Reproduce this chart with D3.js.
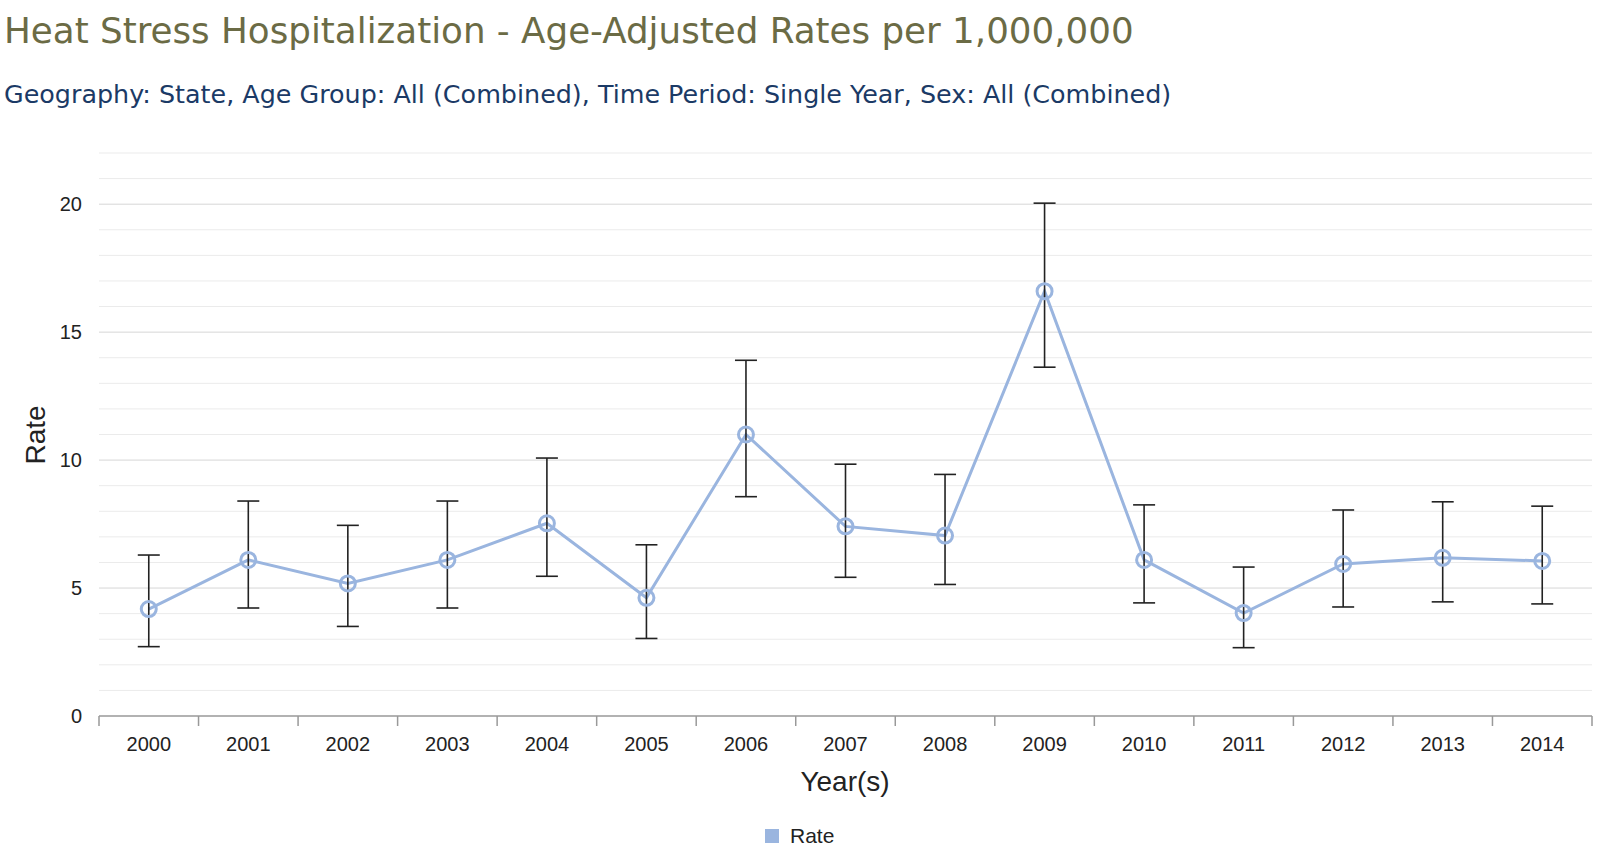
<!DOCTYPE html>
<html>
<head>
<meta charset="utf-8">
<script src="https://cdn.jsdelivr.net/npm/d3@7"></script>
<style>
  body { margin: 0; background: #fff; }
  svg text { font-family: "Liberation Sans", Arial, sans-serif; }
</style>
</head>
<body>
<div id="chart"></div>
<script>
// Data
const years = ["2000", "2001", "2002", "2003", "2004", "2005", "2006", "2007",
  "2008", "2009", "2010", "2011", "2012", "2013", "2014"];
const rate = [4.18, 6.1, 5.18, 6.1, 7.53, 4.62, 11.0, 7.41, 7.05, 16.6, 6.1, 4.02, 5.94, 6.18, 6.06];
const upper = [6.29, 8.4, 7.45, 8.4, 10.08, 6.69, 13.9, 9.84, 9.44, 20.04, 8.25, 5.82, 8.05, 8.37, 8.2];
const lower = [2.71, 4.22, 3.5, 4.22, 5.46, 3.03, 8.57, 5.42, 5.14, 13.63, 4.42, 2.67, 4.26, 4.46, 4.38];
const yTicks = [0, 5, 10, 15, 20];

const titleText = "Heat Stress Hospitalization - Age-Adjusted Rates per 1,000,000";
const subtitleText = "Geography: State, Age Group: All (Combined), Time Period: Single Year, Sex: All (Combined)";

const W = 1600, H = 850;
const MARGIN = {LEFT: 99, RIGHT: 8, TOP: 153, BOTTOM: 134};
const LINE_COLOR = "#9ab5df";

const svg = d3.select("#chart").append("svg")
  .attr("width", W).attr("height", H);

// Titles
svg.append("text")
  .attr("x", 4).attr("y", 43)
  .style("font-family", "'DejaVu Sans', Verdana, sans-serif")
  .style("font-size", "35.7px")
  .attr("fill", "#6b6b45")
  .text(titleText);

svg.append("text")
  .attr("x", 4).attr("y", 103)
  .style("font-family", "'DejaVu Sans', Verdana, sans-serif")
  .style("font-size", "25.4px")
  .attr("fill", "#1b3a66")
  .text(subtitleText);

// Scales
const x = d3.scaleBand()
  .domain(years)
  .range([MARGIN.LEFT, W - MARGIN.RIGHT]);
const y = d3.scaleLinear()
  .domain([0, 22])
  .range([H - MARGIN.BOTTOM, MARGIN.TOP]);

// Grid lines: minor every 1, major every 5
const g = svg.append("g");
g.selectAll("line.minor")
  .data(d3.range(1, 23).filter(v => v % 5 !== 0))
  .join("line")
  .attr("class", "minor")
  .attr("x1", MARGIN.LEFT).attr("x2", W - MARGIN.RIGHT)
  .attr("y1", d => y(d)).attr("y2", d => y(d))
  .attr("stroke", "#ebebeb").attr("stroke-width", 1);
g.selectAll("line.major")
  .data(yTicks.filter(v => v > 0))
  .join("line")
  .attr("class", "major")
  .attr("x1", MARGIN.LEFT).attr("x2", W - MARGIN.RIGHT)
  .attr("y1", d => y(d)).attr("y2", d => y(d))
  .attr("stroke", "#d6d6d6").attr("stroke-width", 1);

// Y axis labels
svg.selectAll("text.ytick")
  .data(yTicks)
  .join("text")
  .attr("class", "ytick")
  .attr("x", 82).attr("y", d => y(d))
  .attr("dy", "0.35em")
  .attr("text-anchor", "end")
  .style("font-size", "20px")
  .attr("fill", "#222")
  .text(d => d);

// X axis
const xAxisGroup = svg.append("g")
  .attr("transform", "translate(0," + y(0) + ")");
xAxisGroup.append("line")
  .attr("x1", MARGIN.LEFT).attr("x2", W - MARGIN.RIGHT)
  .attr("stroke", "#999").attr("stroke-width", 1.5);
const edges = years.map(d => x(d)).concat([x(years[years.length - 1]) + x.bandwidth()]);
xAxisGroup.selectAll("line.tick")
  .data(edges)
  .join("line")
  .attr("class", "tick")
  .attr("x1", d => d).attr("x2", d => d)
  .attr("y1", 0).attr("y2", 10)
  .attr("stroke", "#999").attr("stroke-width", 1.5);
xAxisGroup.selectAll("text")
  .data(years)
  .join("text")
  .attr("x", d => x(d) + x.bandwidth() / 2)
  .attr("y", 35)
  .attr("text-anchor", "middle")
  .style("font-size", "20px")
  .attr("fill", "#222")
  .text(d => d);

// Axis titles
svg.append("text")
  .attr("x", 845).attr("y", 791)
  .attr("text-anchor", "middle")
  .style("font-size", "28px")
  .attr("fill", "#222")
  .text("Year(s)");
svg.append("text")
  .attr("transform", "translate(45,435) rotate(-90)")
  .attr("text-anchor", "middle")
  .style("font-size", "28px")
  .attr("fill", "#222")
  .text("Rate");

const cx = d => x(d) + x.bandwidth() / 2;

// Line
const line = d3.line()
  .x((d, i) => cx(years[i]))
  .y(d => y(d));
svg.append("path")
  .datum(rate)
  .attr("d", line)
  .attr("fill", "none")
  .attr("stroke", LINE_COLOR)
  .attr("stroke-width", 3);

// Error bars
const err = svg.append("g")
  .attr("stroke", "#222").attr("stroke-width", 1.6);
years.forEach((yr, i) => {
  const px = cx(yr);
  err.append("line").attr("x1", px).attr("x2", px)
    .attr("y1", y(upper[i])).attr("y2", y(lower[i]));
  err.append("line").attr("x1", px - 11).attr("x2", px + 11)
    .attr("y1", y(upper[i])).attr("y2", y(upper[i]));
  err.append("line").attr("x1", px - 11).attr("x2", px + 11)
    .attr("y1", y(lower[i])).attr("y2", y(lower[i]));
});

// Points
svg.selectAll("circle.pt")
  .data(rate)
  .join("circle")
  .attr("class", "pt")
  .attr("cx", (d, i) => cx(years[i]))
  .attr("cy", d => y(d))
  .attr("r", 7.5)
  .attr("fill", "#fff")
  .attr("fill-opacity", 0)
  .attr("stroke", LINE_COLOR)
  .attr("stroke-width", 3);

// Legend
svg.append("rect")
  .attr("x", 765).attr("y", 829)
  .attr("width", 14).attr("height", 14)
  .attr("fill", LINE_COLOR);
svg.append("text")
  .attr("x", 790).attr("y", 843)
  .style("font-size", "21px")
  .attr("fill", "#222")
  .text("Rate");
</script>
</body>
</html>
